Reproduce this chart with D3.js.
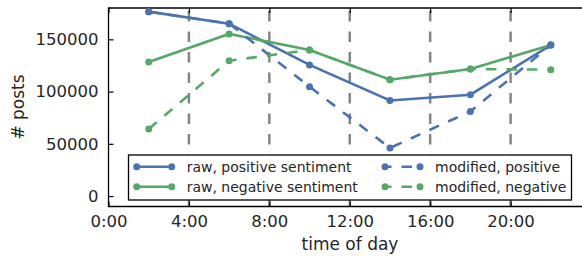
<!DOCTYPE html>
<html>
<head>
<meta charset="utf-8">
<script src="https://cdn.jsdelivr.net/npm/d3@7"></script>
<style>
  html, body { margin: 0; padding: 0; background: #fff; }
  svg { display: block; font-family: "DejaVu Sans", sans-serif; }
</style>
</head>
<body>
<div id="chart"></div>
<script>
// data
const hours = [2, 6, 10, 14, 18, 22];
const rawPositive = [176500, 165000, 125500, 91500, 97000, 144500];
const rawNegative = [128300, 155200, 139800, 111400, 121600, 144500];
const modPositive = [176500, 165000, 104700, 46000, 81000, 144500];
const modNegative = [64200, 129600, 139800, 111400, 121600, 121000];
const xTicks = [0, 4, 8, 12, 16, 20];
const yTicks = [0, 50000, 100000, 150000];
const gridHours = [4, 8, 12, 16, 20];

const series = [
  { name: 'raw, positive sentiment', values: rawPositive, color: '#4c72b0', dashed: false },
  { name: 'raw, negative sentiment', values: rawNegative, color: '#55a868', dashed: false },
  { name: 'modified, positive', values: modPositive, color: '#4c72b0', dashed: true },
  { name: 'modified, negative', values: modNegative, color: '#55a868', dashed: true }
];

const width = 582, height = 256;
const plot = { left: 108.5, top: 8, bottom: 206.5, right: 591 };

const svg = d3.select('#chart').append('svg')
  .attr('width', width)
  .attr('height', height);

const x = d3.scaleLinear().domain([0, 24]).range([plot.left, plot.right]);
const y = d3.scaleLinear().domain([-10000, 180000]).range([plot.bottom, plot.top]);

// vertical dashed guides
svg.append('g').selectAll('line')
  .data(gridHours)
  .join('line')
  .attr('x1', d => x(d)).attr('x2', d => x(d))
  .attr('y1', plot.top).attr('y2', plot.bottom)
  .attr('stroke', '#858585')
  .attr('stroke-width', 2.5)
  .attr('stroke-dasharray', '10.5,10')
  .attr('stroke-dashoffset', -3);

// axes, ticks pointing inward
const fmtHour = d => d + ':00';
svg.append('g')
  .attr('transform', `translate(0,${plot.bottom})`)
  .call(d3.axisBottom(x).tickValues(xTicks).tickFormat(fmtHour).tickSizeInner(-5).tickSizeOuter(0).tickPadding(9))
  .call(g => g.select('.domain').remove());
svg.append('g')
  .attr('transform', `translate(0,${plot.top})`)
  .call(d3.axisTop(x).tickValues(xTicks).tickFormat('').tickSizeInner(-5).tickSizeOuter(0))
  .call(g => g.select('.domain').remove());
svg.append('g')
  .attr('transform', `translate(${plot.left},0)`)
  .call(d3.axisLeft(y).tickValues(yTicks).tickFormat(d3.format('d')).tickSizeInner(-5).tickSizeOuter(0).tickPadding(10))
  .call(g => g.select('.domain').remove());

svg.selectAll('.tick text')
  .attr('font-size', 16.5)
  .attr('fill', '#262626')
  .attr('font-family', '"DejaVu Sans", sans-serif');
svg.selectAll('.tick line').attr('stroke', '#000').attr('stroke-width', 1.2);

// spines
svg.append('path')
  .attr('d', `M${width + 2},${plot.top}H${plot.left}V${plot.bottom}H${width + 2}`)
  .attr('fill', 'none')
  .attr('stroke', '#000')
  .attr('stroke-width', 1.3);

// lines and markers
const line = d3.line()
  .x((d, i) => x(hours[i]))
  .y(d => y(d));

const groups = svg.append('g').selectAll('g')
  .data(series)
  .join('g');

groups.append('path')
  .attr('d', d => line(d.values))
  .attr('fill', 'none')
  .attr('stroke', d => d.color)
  .attr('stroke-width', 2.6)
  .attr('stroke-dasharray', d => d.dashed ? '10.5,10' : null);

groups.selectAll('circle')
  .data(d => d.values.map((v, i) => ({ v, h: hours[i], color: d.color })))
  .join('circle')
  .attr('cx', d => x(d.h))
  .attr('cy', d => y(d.v))
  .attr('r', 3.5)
  .attr('fill', d => d.color);

// legend
const legend = svg.append('g');
legend.append('rect')
  .attr('x', 128.5).attr('y', 155)
  .attr('width', 443).attr('height', 45)
  .attr('fill', '#fff')
  .attr('stroke', '#000')
  .attr('stroke-width', 1.3);

const legendCols = [136.7, 385];
const legendRows = [166.7, 186.7];
series.forEach((s, i) => {
  const lx = legendCols[Math.floor(i / 2)];
  const ly = legendRows[i % 2];
  const item = legend.append('g');
  item.append('line')
    .attr('x1', lx).attr('x2', lx + 35)
    .attr('y1', ly).attr('y2', ly)
    .attr('stroke', s.color)
    .attr('stroke-width', 2.6)
    .attr('stroke-dasharray', s.dashed ? '10.5,10' : null)
    .attr('stroke-dashoffset', s.dashed ? 4 : null);
  [lx, lx + 35].forEach(cx => item.append('circle')
    .attr('cx', cx).attr('cy', ly).attr('r', 3.5).attr('fill', s.color));
  item.append('text')
    .attr('x', lx + 50).attr('y', ly)
    .attr('dy', '0.35em')
    .attr('font-size', 14)
    .attr('fill', '#262626')
    .text(s.name);
});

// axis labels
svg.append('text')
  .attr('x', 350).attr('y', 250)
  .attr('text-anchor', 'middle')
  .attr('font-size', 17)
  .attr('fill', '#262626')
  .text('time of day');
svg.append('text')
  .attr('transform', 'translate(24,107) rotate(-90)')
  .attr('text-anchor', 'middle')
  .attr('font-size', 17)
  .attr('fill', '#262626')
  .text('# posts');
</script>
</body>
</html>
